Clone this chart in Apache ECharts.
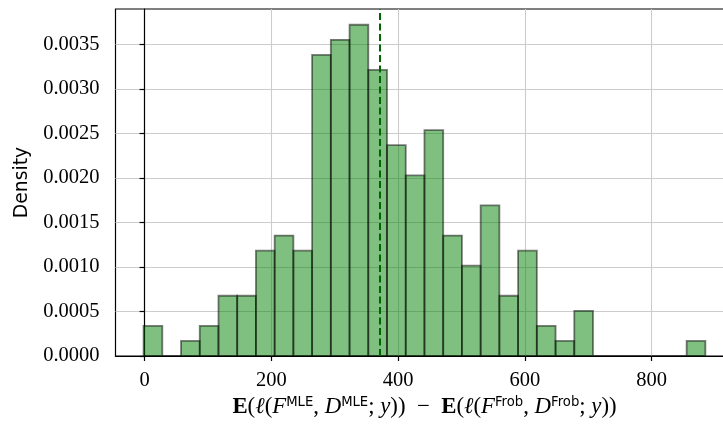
<!DOCTYPE html>
<html>
<head>
<meta charset="utf-8">
<script src="https://cdn.jsdelivr.net/npm/echarts@6/dist/echarts.min.js"></script>
<style>html,body{margin:0;padding:0;background:#fff;overflow:hidden;}#c{width:745px;height:428px;}</style>
</head>
<body>
<div id="c"></div>
<script>
// Histogram data
const binStart = -1.6;
const binWidth = 29.55;
const densities = [0.000338, 0, 0.000169, 0.000338, 0.000677, 0.000677, 0.001184, 0.001354, 0.001184,
  0.003384, 0.003553, 0.003723, 0.003215, 0.002369, 0.002030, 0.002538, 0.001354, 0.001015, 0.001692,
  0.000677, 0.001184, 0.000338, 0.000169, 0.000508, 0, 0, 0, 0, 0, 0.000169];
const meanValue = 371.5;
const xTicks = [0, 200, 400, 600, 800];
const yTicks = [0, 0.0005, 0.0010, 0.0015, 0.0020, 0.0025, 0.0030, 0.0035];
const xMin = -45.9, xMax = 929.3, yMin = 0, yMax = 0.0039;

const histData = densities.map((d, i) => [binStart + i * binWidth, binStart + (i + 1) * binWidth, d]);

const chart = echarts.init(document.getElementById('c'), null, {renderer: 'canvas'});
const serif = 'Liberation Serif';
const fs = 20.5;
const ms = 22.8;
const mathRich = {
  r: {fontFamily: serif, fontSize: ms, color: '#000', verticalAlign: 'bottom'},
  i: {fontFamily: serif, fontSize: ms, fontStyle: 'italic', color: '#000', verticalAlign: 'bottom'},
  b: {fontFamily: serif, fontSize: ms, fontWeight: 'bold', color: '#000', verticalAlign: 'bottom'},
  s: {fontFamily: 'DejaVu Sans', fontSize: 13.2, color: '#000', verticalAlign: 'bottom', padding: [0, 0, 10, 0]}
};
const NB = '\u00A0', EN = '\u2002';
const xName = '{b|E}{r|(}{i|ℓ}{r|(}{i|F}{s|MLE}{r|,' + NB + '}{i|D}{s|MLE}{r|;' + NB + '}{i|y}{r|))' + EN + '−' + EN + '}' +
  '{b|E}{r|(}{i|ℓ}{r|(}{i|F}{s|Frob}{r|,' + NB + '}{i|D}{s|Frob}{r|;' + NB + '}{i|y}{r|))}';

chart.setOption({
  animation: false,
  grid: {left: 115.5, top: 9, width: 618, height: 347, show: true, borderColor: '#000', borderWidth: 1.2, backgroundColor: 'transparent', containLabel: false},
  xAxis: {
    type: 'value', min: xMin, max: xMax,
    axisLine: {show: true, onZero: false, lineStyle: {color: '#000', width: 1.2}},
    axisTick: {show: true, length: 5, customValues: xTicks, lineStyle: {color: '#000', width: 1.2}},
    axisLabel: {customValues: xTicks, fontFamily: serif, fontSize: fs, color: '#000', margin: 14},
    splitLine: {show: true, lineStyle: {color: '#cccccc', width: 1.1}},
    name: xName, nameLocation: 'middle', nameGap: 37,
    nameTextStyle: {rich: mathRich}
  },
  yAxis: {
    type: 'value', min: yMin, max: yMax,
    axisLine: {show: true, lineStyle: {color: '#000', width: 1.2}},
    axisTick: {show: true, length: 5, customValues: yTicks, lineStyle: {color: '#000', width: 1.2}},
    axisLabel: {customValues: yTicks, fontFamily: serif, fontSize: fs, color: '#000', margin: 16,
      formatter: v => v.toFixed(4)},
    splitLine: {show: true, lineStyle: {color: '#cccccc', width: 1.1}},
    name: 'Density', nameLocation: 'middle', nameGap: 84, nameRotate: 90,
    nameTextStyle: {fontFamily: 'DejaVu Sans', fontSize: 18.8, color: '#000'}
  },
  series: [
    {
      type: 'custom',
      data: histData,
      renderItem: function (params, api) {
        const p0 = api.coord([api.value(0), api.value(2)]);
        const p1 = api.coord([api.value(1), 0]);
        return {
          type: 'rect',
          shape: {x: p0[0], y: p0[1], width: p1[0] - p0[0], height: p1[1] - p0[1]},
          style: {fill: 'rgba(0,128,0,0.5)', stroke: 'rgba(0,0,0,0.5)', lineWidth: 1.8}
        };
      },
      encode: {x: [0, 1], y: 2}
    },
    {
      type: 'line',
      data: [[meanValue, yMin], [meanValue, yMax]],
      symbol: 'none',
      lineStyle: {color: '#006400', width: 2, type: [7, 3.5]},
      z: 5
    }
  ]
});
</script>
</body>
</html>
